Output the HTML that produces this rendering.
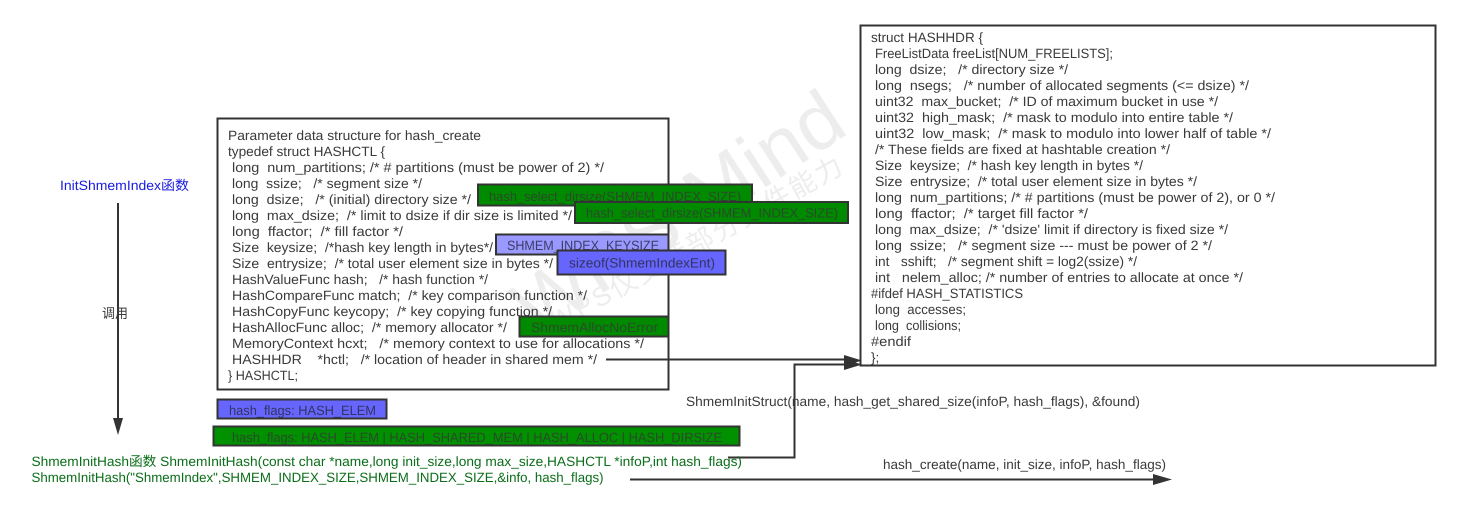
<!DOCTYPE html>
<html><head><meta charset="utf-8"><style>
html,body{margin:0;padding:0;background:#fff;width:1460px;height:512px;overflow:hidden}
svg{display:block}
text{font-family:"Liberation Sans","Noto Sans CJK SC",sans-serif;font-size:13.5px;fill:#3a3a3a;white-space:pre;text-rendering:geometricPrecision}
text.g{fill:#0b6e1a}
rect.n{stroke:#333;stroke-width:2}
</style></head><body>
<svg width="1460" height="512" viewBox="0 0 1460 512" xmlns="http://www.w3.org/2000/svg">
<rect width="1460" height="512" fill="#fff"/>
<!-- watermark -->
<text transform="translate(535,337) rotate(-33)" style="font-size:78px;fill:#ededed" textLength="376" lengthAdjust="spacingAndGlyphs">WPS Mind</text>
<text transform="translate(556,332) rotate(-29)" style="font-size:27px;fill:#ededed" textLength="330" lengthAdjust="spacing">WPS仅支持部分文件能力</text>
<!-- boxes -->
<rect class="n" x="217.500" y="118.500" width="451" height="271" fill="none"/>
<rect class="n" x="860.500" y="25.500" width="575" height="340" fill="none"/>
<!-- left text -->
<g>
<text x="228" y="140" textLength="253" lengthAdjust="spacingAndGlyphs">Parameter data structure for hash_create</text>
<text x="228" y="156" textLength="157" lengthAdjust="spacingAndGlyphs">typedef struct HASHCTL {</text>
<text x="232" y="172" textLength="372" lengthAdjust="spacingAndGlyphs">long  num_partitions; /* # partitions (must be power of 2) */</text>
<text x="232" y="188" textLength="190" lengthAdjust="spacingAndGlyphs">long  ssize;   /* segment size */</text>
<text x="232" y="204" textLength="239" lengthAdjust="spacingAndGlyphs">long  dsize;   /* (initial) directory size */</text>
<text x="232" y="220" textLength="340" lengthAdjust="spacingAndGlyphs">long  max_dsize;  /* limit to dsize if dir size is limited */</text>
<text x="232" y="236" textLength="171" lengthAdjust="spacingAndGlyphs">long  ffactor;  /* fill factor */</text>
<text x="232" y="252" textLength="261" lengthAdjust="spacingAndGlyphs">Size  keysize;  /*hash key length in bytes*/</text>
<text x="232" y="268" textLength="321" lengthAdjust="spacingAndGlyphs">Size  entrysize;  /* total user element size in bytes */</text>
<text x="232" y="284" textLength="256" lengthAdjust="spacingAndGlyphs">HashValueFunc hash;   /* hash function */</text>
<text x="232" y="300" textLength="355" lengthAdjust="spacingAndGlyphs">HashCompareFunc match;  /* key comparison function */</text>
<text x="232" y="316" textLength="320" lengthAdjust="spacingAndGlyphs">HashCopyFunc keycopy;  /* key copying function */</text>
<text x="232" y="332" textLength="275" lengthAdjust="spacingAndGlyphs">HashAllocFunc alloc;  /* memory allocator */</text>
<text x="232" y="348" textLength="412" lengthAdjust="spacingAndGlyphs">MemoryContext hcxt;   /* memory context to use for allocations */</text>
<text x="232" y="364" textLength="365" lengthAdjust="spacingAndGlyphs">HASHHDR    *hctl;   /* location of header in shared mem */</text>
<text x="228" y="380" textLength="70" lengthAdjust="spacingAndGlyphs">} HASHCTL;</text>
</g>
<!-- right text -->
<g>
<text x="871" y="42" textLength="112" lengthAdjust="spacingAndGlyphs">struct HASHHDR {</text>
<text x="875" y="58" textLength="238" lengthAdjust="spacingAndGlyphs">FreeListData freeList[NUM_FREELISTS];</text>
<text x="875" y="74" textLength="193" lengthAdjust="spacingAndGlyphs">long  dsize;   /* directory size */</text>
<text x="875" y="90" textLength="374" lengthAdjust="spacingAndGlyphs">long  nsegs;   /* number of allocated segments (&lt;= dsize) */</text>
<text x="875" y="106" textLength="343" lengthAdjust="spacingAndGlyphs">uint32  max_bucket;  /* ID of maximum bucket in use */</text>
<text x="875" y="122" textLength="358" lengthAdjust="spacingAndGlyphs">uint32  high_mask;  /* mask to modulo into entire table */</text>
<text x="875" y="138" textLength="396" lengthAdjust="spacingAndGlyphs">uint32  low_mask;  /* mask to modulo into lower half of table */</text>
<text x="875" y="154" textLength="295" lengthAdjust="spacingAndGlyphs">/* These fields are fixed at hashtable creation */</text>
<text x="875" y="170" textLength="268" lengthAdjust="spacingAndGlyphs">Size  keysize;  /* hash key length in bytes */</text>
<text x="875" y="186" textLength="322" lengthAdjust="spacingAndGlyphs">Size  entrysize;  /* total user element size in bytes */</text>
<text x="875" y="202" textLength="400" lengthAdjust="spacingAndGlyphs">long  num_partitions; /* # partitions (must be power of 2), or 0 */</text>
<text x="875" y="218" textLength="213" lengthAdjust="spacingAndGlyphs">long  ffactor;  /* target fill factor */</text>
<text x="875" y="234" textLength="353" lengthAdjust="spacingAndGlyphs">long  max_dsize;  /* 'dsize' limit if directory is fixed size */</text>
<text x="875" y="250" textLength="337" lengthAdjust="spacingAndGlyphs">long  ssize;   /* segment size --- must be power of 2 */</text>
<text x="875" y="266" textLength="262" lengthAdjust="spacingAndGlyphs">int   sshift;   /* segment shift = log2(ssize) */</text>
<text x="875" y="282" textLength="368" lengthAdjust="spacingAndGlyphs">int   nelem_alloc; /* number of entries to allocate at once */</text>
<text x="871" y="298" textLength="152" lengthAdjust="spacingAndGlyphs">#ifdef HASH_STATISTICS</text>
<text x="875" y="314" textLength="91" lengthAdjust="spacingAndGlyphs">long  accesses;</text>
<text x="875" y="330" textLength="86" lengthAdjust="spacingAndGlyphs">long  collisions;</text>
<text x="871" y="346" textLength="40" lengthAdjust="spacingAndGlyphs">#endif</text>
<text x="871" y="362">};</text>
</g>
<!-- highlight boxes -->
<rect class="n" x="478" y="184.500" width="274" height="21" fill="#008a00"/>
<text x="489" y="201" textLength="252" lengthAdjust="spacingAndGlyphs" style="fill:#2a4a2a">hash_select_dirsize(SHMEM_INDEX_SIZE)</text>
<rect class="n" x="575" y="202" width="273" height="21" fill="#008a00"/>
<text x="586" y="217.500" textLength="252" lengthAdjust="spacingAndGlyphs" style="fill:#2a4a2a">hash_select_dirsize(SHMEM_INDEX_SIZE)</text>
<rect class="n" x="496" y="234.500" width="172.500" height="20" fill="#9999ff"/>
<text x="507" y="250" textLength="152" lengthAdjust="spacingAndGlyphs" style="fill:#3c3c66">SHMEM_INDEX_KEYSIZE</text>
<rect class="n" x="557.500" y="250.500" width="168" height="24" fill="#6666ff"/>
<text x="569" y="267.500" textLength="146" lengthAdjust="spacingAndGlyphs" style="fill:#33335e">sizeof(ShmemIndexEnt)</text>
<rect class="n" x="519.500" y="316.500" width="149" height="20" fill="#008a00"/>
<text x="531" y="332" textLength="127" lengthAdjust="spacingAndGlyphs" style="fill:#2a4a2a">ShmemAllocNoError</text>
<rect class="n" x="217.500" y="399.500" width="169" height="19" fill="#6666ff"/>
<text x="229" y="415" textLength="147" lengthAdjust="spacingAndGlyphs" style="fill:#33335e">hash_flags: HASH_ELEM</text>
<rect class="n" x="213.500" y="426.500" width="526" height="19" fill="#009000"/>
<text x="232" y="442" textLength="490" lengthAdjust="spacingAndGlyphs" style="fill:#2a4a2a">hash_flags: HASH_ELEM | HASH_SHARED_MEM | HASH_ALLOC | HASH_DIRSIZE</text>
<!-- connectors -->
<g stroke="#333" stroke-width="2" fill="none">
<path d="M118 203V420"/>
<path d="M606 359.500H845"/>
<path d="M728 457.500H794.500V364.500H845"/>
<path d="M630 479.500H1155"/>
</g>
<g fill="#333">
<path d="M113 418L118 435L123 418Z"/>
<path d="M844 355L862 360.500L844 366Z"/>
<path d="M844 359L862 364.500L844 370Z"/>
<path d="M1153 474L1172 479.500L1153 485Z"/>
</g>
<!-- labels -->
<text x="60" y="190" textLength="129" lengthAdjust="spacingAndGlyphs" style="fill:#1a1ae0">InitShmemIndex函数</text>
<text x="102" y="318" textLength="26" lengthAdjust="spacingAndGlyphs">调用</text>
<text x="686" y="406" textLength="454" lengthAdjust="spacingAndGlyphs">ShmemInitStruct(name, hash_get_shared_size(infoP, hash_flags), &amp;found)</text>
<text x="883" y="469" textLength="283" lengthAdjust="spacingAndGlyphs">hash_create(name, init_size, infoP, hash_flags)</text>
<text class="g" x="31.500" y="466" textLength="710.500" lengthAdjust="spacingAndGlyphs">ShmemInitHash函数 ShmemInitHash(const char *name,long init_size,long max_size,HASHCTL *infoP,int hash_flags)</text>
<text class="g" x="31.500" y="482" textLength="572" lengthAdjust="spacingAndGlyphs">ShmemInitHash("ShmemIndex",SHMEM_INDEX_SIZE,SHMEM_INDEX_SIZE,&amp;info, hash_flags)</text>
</svg>
</body></html>
